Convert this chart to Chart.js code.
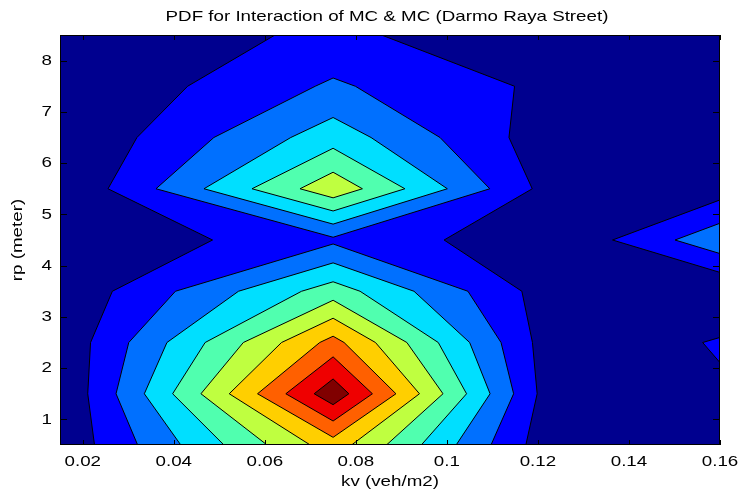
<!DOCTYPE html>
<html>
<head>
<meta charset="utf-8">
<script src="https://cdn.jsdelivr.net/npm/chart.js@4.4.1/dist/chart.umd.min.js"></script>
<style>
  body { margin: 0; background: #fff; }
  canvas { display: block; }
</style>
</head>
<body>
<canvas id="pdfChart" width="742" height="491"></canvas>
<script>
// grid of the surface: kv along x, rp along y
const kv = [0.015, 0.075, 0.125, 0.16]
const rp = [0.5, 1.5, 2.5, 3.5, 4.5, 5.5, 6.5, 7.5, 8.5]

// pdf values, one row per rp value, one column per kv value
const pdfRp05 = [0.0020, 0.0653, 0.0000, 0.0050]
const pdfRp15 = [0.0002, 0.0967, 0.0000, 0.0083]
const pdfRp25 = [0.0020, 0.0735, 0.0010, 0.0111]
const pdfRp35 = [0.0017, 0.0450, 0.0028, 0.0000]
const pdfRp45 = [0.0000, 0.0179, 0.0017, 0.0272]
const pdfRp55 = [0.0000, 0.0569, 0.0033, 0.0052]
const pdfRp65 = [0.0000, 0.0355, 0.0025, 0.0030]
const pdfRp75 = [0.0000, 0.0214, 0.0071, 0.0030]
const pdfRp85 = [0.0000, 0.0127, 0.0000, 0.0030]
const pdf = [pdfRp05, pdfRp15, pdfRp25, pdfRp35, pdfRp45, pdfRp55, pdfRp65, pdfRp75, pdfRp85]

const levels = [0.01, 0.02, 0.03, 0.04, 0.05, 0.06, 0.07, 0.08, 0.09]
const xTicks = [0.02, 0.04, 0.06, 0.08, 0.1, 0.12, 0.14, 0.16]
const yTicks = [1, 2, 3, 4, 5, 6, 7, 8]

// jet colours, one per band (below first level ... above last level)
const bandColors = ['#00008F', '#0000FF', '#0070FF', '#00DFFF', '#50FFAF',
                    '#BFFF40', '#FFCF00', '#FF6000', '#EF0000', '#800000']

const FONT = '15px "Liberation Sans", Arial, sans-serif'
const SX = 1.25 // glyphs are wider than Arial along the text

function wideText(ctx, text, x, y, align) {
  ctx.save()
  ctx.translate(x, y)
  ctx.scale(SX, 1)
  ctx.textAlign = align
  ctx.textBaseline = 'middle'
  ctx.fillText(text, 0, 0)
  ctx.restore()
}

const contourPlugin = {
  id: 'contour',
  beforeDatasetsDraw(chart) {
    const { ctx, chartArea: a, scales: { x, y } } = chart
    ctx.save()
    ctx.beginPath()
    ctx.rect(a.left, a.top, a.width, a.height)
    ctx.clip()
    ctx.fillStyle = bandColors[0]
    ctx.fillRect(a.left, a.top, a.width, a.height)

    const segs = []
    levels.forEach((lv, k) => {
      ctx.beginPath()
      for (let j = 0; j < rp.length - 1; j++) {
        for (let i = 0; i < kv.length - 1; i++) {
          const c = [[i, j], [i + 1, j], [i + 1, j + 1], [i, j + 1]]
          const pts = []
          for (let n = 0; n < 4; n++) {
            const [ia, ja] = c[n]
            const [ib, jb] = c[(n + 1) % 4]
            const za = pdf[ja][ia], zb = pdf[jb][ib]
            if (za >= lv) pts.push({ px: x.getPixelForValue(kv[ia]), py: y.getPixelForValue(rp[ja]), cross: false })
            if ((za >= lv) !== (zb >= lv)) {
              const t = (lv - za) / (zb - za)
              const vx = kv[ia] + t * (kv[ib] - kv[ia])
              const vy = rp[ja] + t * (rp[jb] - rp[ja])
              pts.push({ px: x.getPixelForValue(vx), py: y.getPixelForValue(vy), cross: true })
            }
          }
          if (pts.length < 3) continue
          ctx.moveTo(pts[0].px, pts[0].py)
          for (let m = 1; m < pts.length; m++) ctx.lineTo(pts[m].px, pts[m].py)
          ctx.closePath()
          for (let m = 0; m < pts.length; m++) {
            const p = pts[m], q = pts[(m + 1) % pts.length]
            if (p.cross && q.cross) segs.push([p, q])
          }
        }
      }
      ctx.fillStyle = bandColors[k + 1]
      ctx.fill()
    })

    ctx.beginPath()
    segs.forEach(([p, q]) => {
      ctx.moveTo(p.px, p.py)
      ctx.lineTo(q.px, q.py)
    })
    ctx.strokeStyle = '#000'
    ctx.lineWidth = 1
    ctx.lineJoin = 'round'
    ctx.stroke()
    ctx.restore()
  },
  afterDraw(chart) {
    const { ctx, chartArea: a, scales: { x, y } } = chart
    ctx.save()
    ctx.strokeStyle = '#000'
    ctx.lineWidth = 1
    ctx.beginPath()
    xTicks.forEach(v => {
      const px = Math.round(x.getPixelForValue(v)) + 0.5
      ctx.moveTo(px, a.bottom); ctx.lineTo(px, a.bottom - 5)
      ctx.moveTo(px, a.top); ctx.lineTo(px, a.top + 5)
    })
    yTicks.forEach(v => {
      const py = Math.round(y.getPixelForValue(v)) + 0.5
      ctx.moveTo(a.left, py); ctx.lineTo(a.left + 7, py)
      ctx.moveTo(a.right, py); ctx.lineTo(a.right - 7, py)
    })
    ctx.stroke()
    ctx.strokeRect(a.left + 0.5, a.top + 0.5, a.width - 1, a.height - 1)

    ctx.fillStyle = '#000'
    ctx.font = FONT
    xTicks.forEach(v => wideText(ctx, String(v), x.getPixelForValue(v), a.bottom + 17, 'center'))
    yTicks.forEach(v => wideText(ctx, String(v), a.left - 8, y.getPixelForValue(v), 'right'))
    const cx = (a.left + a.right) / 2
    wideText(ctx, 'PDF for Interaction of MC & MC (Darmo Raya Street)', cx - 3, 17, 'center')
    wideText(ctx, 'kv (veh/m2)', cx, 482, 'center')

    ctx.translate(18, (a.top + a.bottom) / 2)
    ctx.rotate(-Math.PI / 2)
    ctx.scale(SX, 1)
    ctx.textAlign = 'center'
    ctx.textBaseline = 'middle'
    ctx.fillText('rp (meter)', 0, 0)
    ctx.restore()
  }
}

const chart = new Chart(
  document.getElementById('pdfChart'),
  {
    type: 'scatter',
    data: { datasets: [] },
    options: {
      responsive: false,
      animation: false,
      layout: { padding: { top: 35, right: 22, left: 0, bottom: 0 } },
      plugins: {
        legend: { display: false },
        tooltip: { enabled: false },
        title: { display: false }
      },
      scales: {
        x: {
          type: 'linear',
          min: 0.015,
          max: 0.16,
          ticks: { display: false },
          grid: { display: false },
          border: { display: false },
          afterBuildTicks: s => { s.ticks = xTicks.map(v => ({ value: v })) },
          afterFit: s => { s.height = 46 }
        },
        y: {
          type: 'linear',
          min: 0.5,
          max: 8.5,
          ticks: { display: false },
          grid: { display: false },
          border: { display: false },
          afterBuildTicks: s => { s.ticks = yTicks.map(v => ({ value: v })) },
          afterFit: s => { s.width = 60 }
        }
      }
    },
    plugins: [contourPlugin]
  }
)
</script>
</body>
</html>
